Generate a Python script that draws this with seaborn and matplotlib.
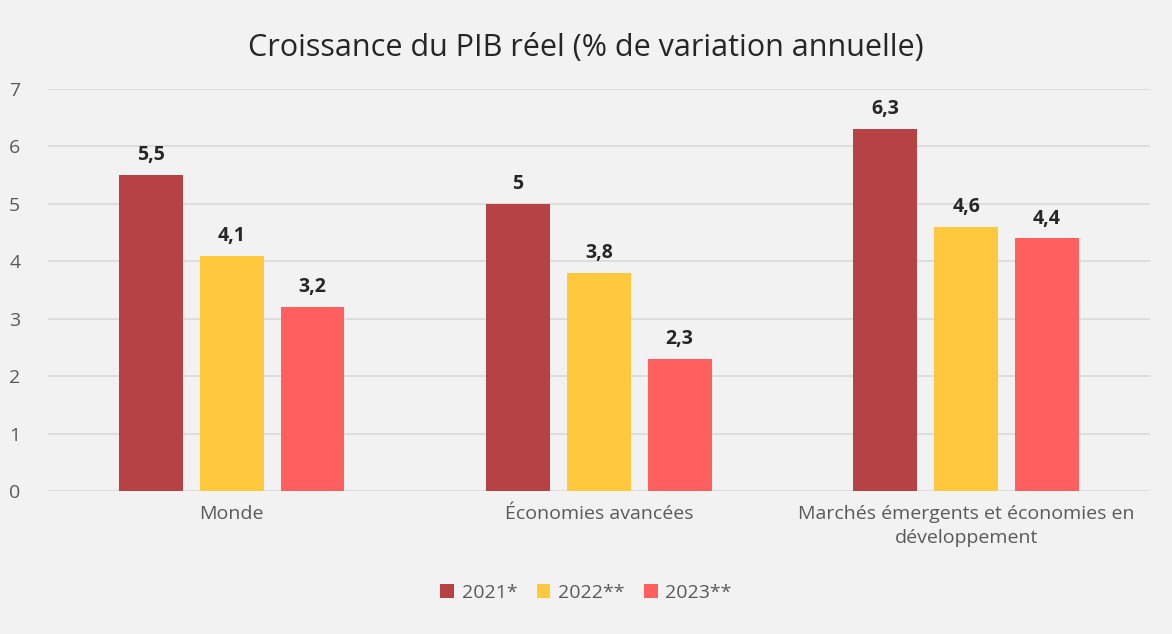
import pandas as pd
import seaborn as sns
import matplotlib.pyplot as plt

categories = ["Monde", "Économies avancées",
              "Marchés émergents et économies en\ndéveloppement"]
series = ["2021*", "2022**", "2023**"]
values_2021 = [5.5, 5.0, 6.3]
values_2022 = [4.1, 3.8, 4.6]
values_2023 = [3.2, 2.3, 4.4]
colors = ["#B74245", "#FFC83D", "#FF5F5F"]

df = pd.DataFrame({
    "Catégorie": categories * 3,
    "Série": [s for s in series for _ in categories],
    "Valeur": values_2021 + values_2022 + values_2023,
})

sns.set_theme(style="white")
plt.rcParams["font.family"] = ["Open Sans", "DejaVu Sans"]

bg = "#F2F2F2"
fig = plt.figure(figsize=(11.72, 6.34), dpi=100, facecolor=bg)
ax = fig.add_axes([0.041, 0.2256, 0.940, 0.634])
ax.set_facecolor(bg)

sns.barplot(data=df, x="Catégorie", y="Valeur", hue="Série",
            order=categories, hue_order=series, palette=colors,
            width=0.66, gap=0.21, saturation=1, linewidth=0,
            ax=ax, legend=True)

for container in ax.containers:
    labels = [f"{v:g}".replace(".", ",") for v in container.datavalues]
    ax.bar_label(container, labels=labels, padding=7, fontsize=14,
                 fontweight="bold", color="#262626")

ax.set_ylim(0, 7)
ax.set_yticks(range(8))
ax.grid(True, axis="y", color="#D9D9D9", linewidth=1.2)
ax.set_axisbelow(True)
for s in ax.spines.values():
    s.set_visible(False)
ax.set_xlabel("")
ax.set_ylabel("")
ax.tick_params(axis="both", length=0, labelsize=14, colors="#595959")
ax.tick_params(axis="x", pad=10)
ax.tick_params(axis="y", pad=20)
for lbl in ax.get_xticklabels():
    lbl.set_linespacing(1.45)
    lbl.set_verticalalignment("top")

fig.text(0.5, 0.925, "Croissance du PIB réel (% de variation annuelle)",
         ha="center", va="center", fontsize=22, color="#262626")

handles, labels = ax.get_legend_handles_labels()
ax.legend_.remove()
fig.legend(handles, labels, loc="center", bbox_to_anchor=(0.5, 0.065),
           ncol=3, frameon=False, fontsize=14, handlelength=0.7,
           handleheight=0.7, columnspacing=1.0, handletextpad=0.4,
           labelcolor="#595959")

fig.savefig("out.png", dpi=100, facecolor=bg)
